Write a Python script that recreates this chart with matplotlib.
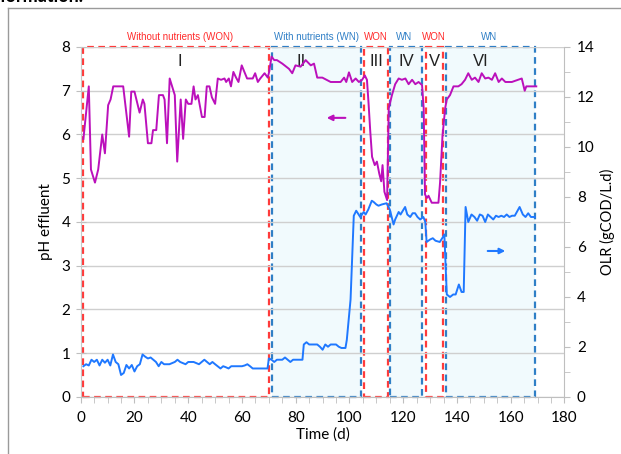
import matplotlib
matplotlib.use('Agg')
import matplotlib.pyplot as plt
from matplotlib.patches import Rectangle
from matplotlib.lines import Line2D
from matplotlib.ticker import MultipleLocator

# pH effluent (left axis)
ph_t = [1, 3, 3.8, 5.3, 6.5, 8, 9, 10.2, 11.1, 12.1, 15.8, 18, 18.8, 20, 21.9, 23.1, 23.7,
        25, 26.3, 26.9, 28.1, 29.1, 30.6, 31.2, 32.1, 33.1, 35, 35.9, 37.2, 38.1, 39.1, 40,
        41.2, 42, 42.7, 43.6, 45.1, 46.1, 46.9, 47.9, 48.8, 50, 51, 52.2, 53.5, 54.1, 55.1,
        55.9, 56.8, 57.8, 58.7, 59.9, 60.9, 61.9, 64, 64.9, 65.9, 66.8, 68.4, 69.6, 70.1,
        71, 72, 73, 75, 77.5, 78.7, 79.9, 81.8, 83.7, 85.6, 86.8, 88, 89.9, 93, 96.7, 98,
        98.8, 99.8, 101, 102.3, 103.5, 104.7, 105.7, 106.5, 107.1, 107.7, 108.4, 109.4,
        110.2, 111.1, 111.8, 112.3, 113, 114, 114.6, 115.2, 115.8, 117, 118.3, 119.5, 120.8,
        122, 123.3, 124.5, 125.7, 127, 127.6, 128.1, 128.8, 129.4, 130.6, 133.1, 133.7,
        134.6, 135.6, 136.2, 137.4, 138.7, 140.5, 141.7, 143, 144.2, 145.5, 146.7, 148,
        149.2, 150.5, 151.7, 153, 154.2, 155.5, 156.7, 158, 160.4, 164.1, 165.2, 165.8, 169.5]
ph_v = [5.9, 7.1, 5.2, 4.9, 5.2, 6.0, 5.57, 6.67, 6.8, 7.1, 7.1, 5.95, 6.98, 6.98, 6.5, 6.8, 6.7,
        5.8, 5.8, 6.1, 6.1, 6.9, 6.9, 6.8, 5.8, 7.28, 6.9, 5.38, 6.8, 5.9, 6.8, 6.7,
        6.7, 7.1, 6.8, 6.9, 6.4, 6.4, 7.1, 7.1, 6.85, 6.7, 7.28, 7.25, 7.28, 7.2, 7.28,
        7.1, 7.43, 7.3, 7.2, 7.58, 7.43, 7.28, 7.28, 7.4, 7.2, 7.28, 7.4, 7.3, 7.43,
        7.78, 7.7, 7.7, 7.62, 7.5, 7.4, 7.58, 7.55, 7.7, 7.58, 7.62, 7.3, 7.3, 7.2, 7.2, 7.3,
        7.2, 7.42, 7.2, 7.28, 7.2, 7.25, 7.35, 7.25, 6.71, 6.1, 5.49, 5.3,
        5.38, 5.1, 4.93, 5.3, 4.69, 4.5, 6.6, 6.75, 6.9, 7.15, 7.28, 7.25, 7.28,
        7.15, 7.25, 7.15, 7.2, 7.13, 6.6, 4.63, 4.55, 4.6, 4.44, 4.44, 4.9,
        5.96, 6.6, 6.8, 6.9, 7.1, 7.1, 7.15, 7.25, 7.4, 7.25, 7.3, 7.2,
        7.4, 7.28, 7.3, 7.25, 7.4, 7.2, 7.28, 7.2, 7.2, 7.28, 7.0, 7.1, 7.1]

# OLR (right axis)
olr_t = [1, 2, 3, 4, 5, 6, 7, 8, 9, 10, 11, 12, 13, 14, 15, 16, 17, 18, 19, 20, 21, 22, 23,
         24, 25, 26, 27, 28, 29, 30, 31, 33, 35, 36, 37, 39, 40, 42, 44, 46, 47, 48, 49, 50,
         52, 53, 54, 55, 56, 58, 60, 61, 62, 63, 64, 66, 68, 69.5, 70, 71, 72, 73, 75, 76,
         77, 78, 79, 81, 82.5, 83, 84, 85, 88, 89, 90, 91, 92, 93, 95, 96, 97, 98.5, 99,
         100.4, 101.6, 102.5, 104, 105.3, 106, 107, 108.3, 109, 110, 110.8, 112, 113.8, 115,
         116.4, 117, 118.3, 119, 120.7, 121.5, 122.6, 123.5, 124.4, 125.3, 126.3, 127.5,
         128.2, 128.7, 130, 131, 132, 133.6, 134.5, 135.3, 136.2, 137.4, 138.6, 139.5, 140.7,
         141.7, 142.5, 143.2, 144.2, 145.4, 146.5, 147.5, 148.5, 149.5, 150.5, 151.5, 152.5,
         153.5, 154.5, 155.5, 156.5, 157.5, 158.5, 159.5, 160.5, 161.5, 163.3, 164.5, 165.5,
         166.5, 167.5, 169]
olr_v = [1.23, 1.31, 1.26, 1.49, 1.4, 1.49, 1.26, 1.49, 1.37, 1.49, 1.26, 1.7, 1.4, 1.31,
         0.88, 0.96, 1.28, 1.14, 1.28, 1.02, 1.23, 1.31, 1.7, 1.61, 1.54, 1.58, 1.49, 1.4,
         1.23, 1.4, 1.31, 1.31, 1.4, 1.49, 1.4, 1.31, 1.4, 1.4, 1.31, 1.49, 1.4, 1.31, 1.4,
         1.31, 1.14, 1.23, 1.19, 1.14, 1.23, 1.23, 1.23, 1.26, 1.31, 1.23, 1.14, 1.14, 1.14,
         1.14, 1.54, 1.49, 1.4, 1.49, 1.49, 1.58, 1.49, 1.4, 1.49, 1.49, 1.49, 2.1, 2.19,
         2.1, 2.1, 2.01, 1.89, 2.1, 2.01, 2.1, 2.1, 2.01, 1.96, 1.96, 2.28,
         3.9, 7.25, 7.45, 7.2, 7.4, 7.3, 7.5, 7.85, 7.8, 7.7, 7.65, 7.7, 7.75, 7.5,
         6.9, 7.1, 7.4, 7.3, 7.6, 7.3, 7.2, 7.35, 7.35, 7.2, 7.1, 7.2,
         7.0, 6.2, 6.3, 6.35, 6.25, 6.2, 6.35, 6.5, 4.1, 4.0, 4.1, 4.1, 4.5,
         4.2, 4.2, 7.6, 7.0, 7.3, 7.2, 7.05, 7.3, 7.25, 7.0, 7.3, 7.2,
         7.1, 7.25, 7.2, 7.25, 7.2, 7.3, 7.2, 7.25, 7.25, 7.6, 7.3, 7.2,
         7.35, 7.2, 7.2]

# operating periods
period_start = [0.7, 71.1, 105.4, 115.2, 128.5, 135.9]
period_end = [69.9, 104.4, 114.2, 127.1, 134.9, 169.1]
period_name = ['I', 'II', 'III', 'IV', 'V', 'VI']
period_name_x = [36.8, 82, 110, 121, 131.6, 149]
period_nutr = ['Without nutrients (WON)', 'With nutrients (WN)', 'WON', 'WN', 'WON', 'WN']
period_nutr_x = [36.8, 87.9, 109.9, 120.3, 131.5, 151.9]
period_won = [True, False, True, False, True, False]

red = '#ff3b3b'
blue_box = '#2f7fc6'
purple = '#bb10bb'
blue_line = '#1f78ff'

plt.rcParams['font.family'] = ['Lato', 'DejaVu Sans']

fig = plt.figure(figsize=(6.21, 4.54), dpi=100)
ax = fig.add_axes([0.13, 0.1256, 0.779, 0.7709])
ax2 = ax.twinx()

ax.set_xlim(0, 180)
ax.set_ylim(0, 8)
ax2.set_ylim(0, 14)

# period boxes
for i in range(len(period_name)):
    s, e = period_start[i], period_end[i]
    if period_won[i]:
        ec, fc, tc = red, 'white', '#ff2a2a'
    else:
        ec, fc, tc = blue_box, '#f1fafd', '#2f7fc6'
    if i == 0:
        fc = 'none'
    ax.add_patch(Rectangle((s, 0), e - s, 8, facecolor=fc, edgecolor=ec, lw=1.6,
                           linestyle=(0, (3, 2)), zorder=1, clip_on=False))
    ax.text(period_name_x[i], 7.66, period_name[i], ha='center', va='center', fontsize=12,
            color='#222222', family=['Liberation Sans'])
    ax.text(period_nutr_x[i], 8.23, period_nutr[i], ha='center', va='center', fontsize=7,
            color=tc, family=['Liberation Sans'], clip_on=False)

ax.grid(axis='y', color='#cfcfcf', lw=1)
ax.plot(ph_t, ph_v, color=purple, lw=1.4, zorder=3)
ax2.plot(olr_t, olr_v, color=blue_line, lw=1.4, zorder=3)

# direction arrows
ax.annotate('', xy=(90.5, 6.38), xytext=(99.5, 6.38),
            arrowprops=dict(arrowstyle='-|>', color=purple, lw=1.5, mutation_scale=8))
ax2.annotate('', xy=(159, 5.84), xytext=(150.4, 5.84),
             arrowprops=dict(arrowstyle='-|>', color=blue_line, lw=1.5, mutation_scale=8))

for a in (ax, ax2):
    a.spines['top'].set_visible(False)
ax.spines['left'].set_color('#c8c8c8')
ax.spines['bottom'].set_color('#bfbfbf')
ax.spines['right'].set_visible(False)
ax2.spines['left'].set_visible(False)
ax2.spines['bottom'].set_visible(False)
ax2.spines['right'].set_color('#bfbfbf')

ax.xaxis.set_major_locator(MultipleLocator(20))
ax.xaxis.set_minor_locator(MultipleLocator(5))
ax.yaxis.set_major_locator(MultipleLocator(1))
ax2.yaxis.set_major_locator(MultipleLocator(2))
ax2.yaxis.set_minor_locator(MultipleLocator(1))
ax.tick_params(axis='x', which='both', direction='out', length=4, color='#bfbfbf',
               labelsize=11, pad=6)
ax.tick_params(axis='y', direction='inout', length=7, color='#bfbfbf', labelsize=11, pad=4)
ax2.tick_params(axis='y', which='both', direction='out', length=4, color='#bfbfbf',
                labelsize=11, pad=5)

ax.set_xlabel('Time (d)', fontsize=11, labelpad=2)
ax.set_ylabel('pH effluent', fontsize=11, labelpad=6)
ax2.set_ylabel('OLR (gCOD/L.d)', fontsize=10.5, labelpad=4)

# page frame and clipped caption line from the source document
fig.add_artist(Line2D([8 / 621, 8 / 621], [0, 1 - 8 / 454], color='#9a9a9a', lw=1))
fig.add_artist(Line2D([8 / 621, 1], [1 - 8 / 454, 1 - 8 / 454], color='#9a9a9a', lw=1))
fig.text(0.0, 1 - 2 / 454, 'formation.', ha='left', va='baseline', fontsize=13,
         fontweight='bold', color='black')

fig.savefig('out.png', dpi=100)
